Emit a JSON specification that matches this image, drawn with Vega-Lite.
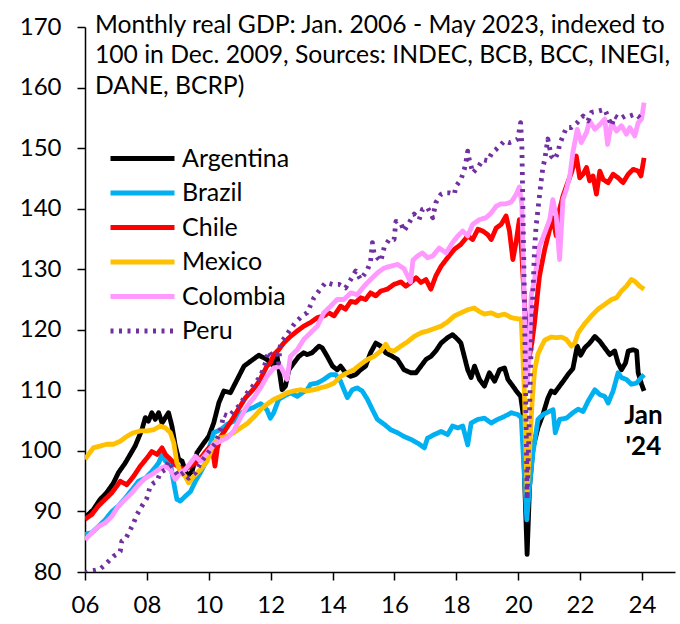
{
"$schema":"https://vega.github.io/schema/vega-lite/v6.json",
"width":590,"height":545,
"autosize":{"type":"none"},
"padding":{"left":85,"top":27,"right":5,"bottom":52},
"background":"white",
"config":{"view":{"stroke":null},"font":"Lato","axis":{"grid":false,"domainColor":"black","tickColor":"black","domainWidth":1.5,"tickWidth":1.5,"labelColor":"black","labelFont":"Lato","labelFontSize":24,"title":null,"labelFlush":false,"labelOverlap":false}},
"layer":[
{"data":{"values":[
{"country":"Argentina","year":2006.0,"value":89.0},{"country":"Argentina","year":2006.27,"value":90.3},{"country":"Argentina","year":2006.49,"value":92.0},{"country":"Argentina","year":2006.7,"value":93.1},{"country":"Argentina","year":2006.92,"value":94.7},{"country":"Argentina","year":2007.08,"value":96.4},{"country":"Argentina","year":2007.3,"value":98.0},{"country":"Argentina","year":2007.46,"value":99.4},{"country":"Argentina","year":2007.62,"value":100.8},{"country":"Argentina","year":2007.84,"value":103.5},{"country":"Argentina","year":2007.95,"value":105.5},{"country":"Argentina","year":2008.05,"value":104.9},{"country":"Argentina","year":2008.16,"value":106.3},{"country":"Argentina","year":2008.27,"value":105.2},{"country":"Argentina","year":2008.38,"value":106.3},{"country":"Argentina","year":2008.49,"value":104.6},{"country":"Argentina","year":2008.7,"value":106.3},{"country":"Argentina","year":2008.81,"value":104.1},{"country":"Argentina","year":2008.92,"value":100.8},{"country":"Argentina","year":2009.03,"value":98.6},{"country":"Argentina","year":2009.14,"value":98.3},{"country":"Argentina","year":2009.3,"value":95.8},{"country":"Argentina","year":2009.46,"value":96.6},{"country":"Argentina","year":2009.62,"value":99.7},{"country":"Argentina","year":2009.84,"value":101.3},{"country":"Argentina","year":2010.0,"value":102.4},{"country":"Argentina","year":2010.16,"value":104.6},{"country":"Argentina","year":2010.33,"value":108.0},{"country":"Argentina","year":2010.49,"value":109.9},{"country":"Argentina","year":2010.7,"value":109.6},{"country":"Argentina","year":2010.92,"value":111.8},{"country":"Argentina","year":2011.14,"value":114.0},{"country":"Argentina","year":2011.35,"value":114.8},{"country":"Argentina","year":2011.62,"value":115.8},{"country":"Argentina","year":2011.88,"value":115.1},{"country":"Argentina","year":2012.1,"value":114.0},{"country":"Argentina","year":2012.21,"value":115.6},{"country":"Argentina","year":2012.32,"value":111.8},{"country":"Argentina","year":2012.37,"value":110.1},{"country":"Argentina","year":2012.48,"value":110.7},{"country":"Argentina","year":2012.59,"value":113.4},{"country":"Argentina","year":2012.75,"value":114.5},{"country":"Argentina","year":2012.91,"value":115.6},{"country":"Argentina","year":2013.07,"value":116.2},{"country":"Argentina","year":2013.18,"value":115.9},{"country":"Argentina","year":2013.34,"value":116.2},{"country":"Argentina","year":2013.56,"value":117.3},{"country":"Argentina","year":2013.67,"value":117.0},{"country":"Argentina","year":2013.83,"value":115.6},{"country":"Argentina","year":2014.0,"value":114.0},{"country":"Argentina","year":2014.15,"value":113.4},{"country":"Argentina","year":2014.26,"value":114.0},{"country":"Argentina","year":2014.42,"value":112.9},{"country":"Argentina","year":2014.58,"value":112.3},{"country":"Argentina","year":2014.75,"value":112.6},{"country":"Argentina","year":2014.91,"value":113.4},{"country":"Argentina","year":2015.07,"value":114.0},{"country":"Argentina","year":2015.23,"value":116.2},{"country":"Argentina","year":2015.4,"value":117.8},{"country":"Argentina","year":2015.56,"value":117.3},{"country":"Argentina","year":2015.72,"value":116.2},{"country":"Argentina","year":2015.94,"value":115.6},{"country":"Argentina","year":2016.1,"value":115.1},{"country":"Argentina","year":2016.31,"value":113.4},{"country":"Argentina","year":2016.53,"value":112.9},{"country":"Argentina","year":2016.7,"value":112.9},{"country":"Argentina","year":2016.86,"value":114.0},{"country":"Argentina","year":2017.02,"value":115.1},{"country":"Argentina","year":2017.18,"value":115.6},{"country":"Argentina","year":2017.34,"value":116.5},{"country":"Argentina","year":2017.51,"value":117.8},{"country":"Argentina","year":2017.72,"value":118.7},{"country":"Argentina","year":2017.88,"value":119.2},{"country":"Argentina","year":2018.05,"value":118.4},{"country":"Argentina","year":2018.15,"value":117.8},{"country":"Argentina","year":2018.26,"value":115.6},{"country":"Argentina","year":2018.37,"value":113.4},{"country":"Argentina","year":2018.48,"value":112.1},{"country":"Argentina","year":2018.59,"value":114.0},{"country":"Argentina","year":2018.75,"value":111.8},{"country":"Argentina","year":2018.91,"value":110.7},{"country":"Argentina","year":2019.07,"value":112.9},{"country":"Argentina","year":2019.24,"value":111.5},{"country":"Argentina","year":2019.4,"value":113.4},{"country":"Argentina","year":2019.56,"value":113.7},{"country":"Argentina","year":2019.67,"value":111.8},{"country":"Argentina","year":2019.83,"value":110.7},{"country":"Argentina","year":2019.94,"value":109.9},{"country":"Argentina","year":2020.08,"value":109.0},{"country":"Argentina","year":2020.15,"value":106.5},{"country":"Argentina","year":2020.21,"value":95.0},{"country":"Argentina","year":2020.29,"value":82.9},{"country":"Argentina","year":2020.37,"value":94.2},{"country":"Argentina","year":2020.48,"value":100.5},{"country":"Argentina","year":2020.64,"value":103.8},{"country":"Argentina","year":2020.8,"value":106.0},{"country":"Argentina","year":2020.96,"value":108.7},{"country":"Argentina","year":2021.07,"value":109.9},{"country":"Argentina","year":2021.18,"value":109.6},{"country":"Argentina","year":2021.34,"value":110.7},{"country":"Argentina","year":2021.5,"value":111.8},{"country":"Argentina","year":2021.61,"value":112.6},{"country":"Argentina","year":2021.77,"value":113.6},{"country":"Argentina","year":2021.91,"value":117.3},{"country":"Argentina","year":2022.02,"value":115.8},{"country":"Argentina","year":2022.15,"value":117.0},{"country":"Argentina","year":2022.31,"value":117.8},{"country":"Argentina","year":2022.48,"value":118.9},{"country":"Argentina","year":2022.64,"value":118.1},{"country":"Argentina","year":2022.8,"value":117.0},{"country":"Argentina","year":2022.96,"value":115.9},{"country":"Argentina","year":2023.12,"value":116.5},{"country":"Argentina","year":2023.23,"value":114.5},{"country":"Argentina","year":2023.34,"value":113.4},{"country":"Argentina","year":2023.47,"value":114.5},{"country":"Argentina","year":2023.56,"value":116.5},{"country":"Argentina","year":2023.72,"value":116.7},{"country":"Argentina","year":2023.83,"value":116.5},{"country":"Argentina","year":2023.88,"value":112.9},{"country":"Argentina","year":2023.99,"value":111.0},{"country":"Argentina","year":2024.07,"value":109.9},
{"country":"Brazil","year":2006.0,"value":86.2},{"country":"Brazil","year":2006.22,"value":86.5},{"country":"Brazil","year":2006.43,"value":87.5},{"country":"Brazil","year":2006.65,"value":88.6},{"country":"Brazil","year":2006.87,"value":90.0},{"country":"Brazil","year":2007.08,"value":90.9},{"country":"Brazil","year":2007.3,"value":92.2},{"country":"Brazil","year":2007.52,"value":93.6},{"country":"Brazil","year":2007.73,"value":95.0},{"country":"Brazil","year":2007.95,"value":95.5},{"country":"Brazil","year":2008.16,"value":96.6},{"country":"Brazil","year":2008.38,"value":98.0},{"country":"Brazil","year":2008.49,"value":99.4},{"country":"Brazil","year":2008.6,"value":98.3},{"country":"Brazil","year":2008.76,"value":98.0},{"country":"Brazil","year":2008.87,"value":94.7},{"country":"Brazil","year":2008.97,"value":92.0},{"country":"Brazil","year":2009.08,"value":91.7},{"country":"Brazil","year":2009.24,"value":92.5},{"country":"Brazil","year":2009.41,"value":93.3},{"country":"Brazil","year":2009.57,"value":95.0},{"country":"Brazil","year":2009.73,"value":96.4},{"country":"Brazil","year":2009.89,"value":98.0},{"country":"Brazil","year":2010.05,"value":101.1},{"country":"Brazil","year":2010.16,"value":103.0},{"country":"Brazil","year":2010.38,"value":103.5},{"country":"Brazil","year":2010.6,"value":104.4},{"country":"Brazil","year":2010.81,"value":104.9},{"country":"Brazil","year":2011.03,"value":106.2},{"country":"Brazil","year":2011.24,"value":106.8},{"country":"Brazil","year":2011.46,"value":107.2},{"country":"Brazil","year":2011.68,"value":107.8},{"country":"Brazil","year":2011.88,"value":106.8},{"country":"Brazil","year":2011.99,"value":105.4},{"country":"Brazil","year":2012.1,"value":106.3},{"country":"Brazil","year":2012.26,"value":108.5},{"country":"Brazil","year":2012.42,"value":109.0},{"country":"Brazil","year":2012.64,"value":109.6},{"country":"Brazil","year":2012.86,"value":109.0},{"country":"Brazil","year":2013.02,"value":109.6},{"country":"Brazil","year":2013.18,"value":110.1},{"country":"Brazil","year":2013.29,"value":111.0},{"country":"Brazil","year":2013.51,"value":111.2},{"country":"Brazil","year":2013.72,"value":111.8},{"country":"Brazil","year":2013.94,"value":112.6},{"country":"Brazil","year":2014.1,"value":112.6},{"country":"Brazil","year":2014.26,"value":111.5},{"country":"Brazil","year":2014.37,"value":110.1},{"country":"Brazil","year":2014.48,"value":108.8},{"country":"Brazil","year":2014.64,"value":110.1},{"country":"Brazil","year":2014.8,"value":110.4},{"country":"Brazil","year":2014.96,"value":109.9},{"country":"Brazil","year":2015.13,"value":108.5},{"country":"Brazil","year":2015.29,"value":106.8},{"country":"Brazil","year":2015.45,"value":105.2},{"country":"Brazil","year":2015.67,"value":104.4},{"country":"Brazil","year":2015.88,"value":103.5},{"country":"Brazil","year":2016.1,"value":103.0},{"country":"Brazil","year":2016.3,"value":102.4},{"country":"Brazil","year":2016.53,"value":101.9},{"country":"Brazil","year":2016.75,"value":101.3},{"country":"Brazil","year":2016.97,"value":100.5},{"country":"Brazil","year":2017.07,"value":102.1},{"country":"Brazil","year":2017.29,"value":102.7},{"country":"Brazil","year":2017.51,"value":103.2},{"country":"Brazil","year":2017.72,"value":102.7},{"country":"Brazil","year":2017.88,"value":104.1},{"country":"Brazil","year":2018.05,"value":103.8},{"country":"Brazil","year":2018.21,"value":104.1},{"country":"Brazil","year":2018.37,"value":101.0},{"country":"Brazil","year":2018.48,"value":104.6},{"country":"Brazil","year":2018.7,"value":105.2},{"country":"Brazil","year":2018.91,"value":105.4},{"country":"Brazil","year":2019.13,"value":104.6},{"country":"Brazil","year":2019.34,"value":105.2},{"country":"Brazil","year":2019.56,"value":105.7},{"country":"Brazil","year":2019.78,"value":106.3},{"country":"Brazil","year":2019.99,"value":106.0},{"country":"Brazil","year":2020.1,"value":105.5},{"country":"Brazil","year":2020.19,"value":97.0},{"country":"Brazil","year":2020.28,"value":88.6},{"country":"Brazil","year":2020.37,"value":94.2},{"country":"Brazil","year":2020.48,"value":99.7},{"country":"Brazil","year":2020.64,"value":105.2},{"country":"Brazil","year":2020.8,"value":106.0},{"country":"Brazil","year":2020.96,"value":106.4},{"country":"Brazil","year":2021.13,"value":106.8},{"country":"Brazil","year":2021.2,"value":103.0},{"country":"Brazil","year":2021.34,"value":105.2},{"country":"Brazil","year":2021.56,"value":105.4},{"country":"Brazil","year":2021.77,"value":106.3},{"country":"Brazil","year":2021.94,"value":106.9},{"country":"Brazil","year":2022.1,"value":106.5},{"country":"Brazil","year":2022.26,"value":108.2},{"country":"Brazil","year":2022.48,"value":110.1},{"country":"Brazil","year":2022.64,"value":109.3},{"country":"Brazil","year":2022.8,"value":109.0},{"country":"Brazil","year":2022.91,"value":107.9},{"country":"Brazil","year":2023.07,"value":109.9},{"country":"Brazil","year":2023.23,"value":112.9},{"country":"Brazil","year":2023.34,"value":112.1},{"country":"Brazil","year":2023.5,"value":111.8},{"country":"Brazil","year":2023.66,"value":111.0},{"country":"Brazil","year":2023.83,"value":111.2},{"country":"Brazil","year":2023.93,"value":111.8},{"country":"Brazil","year":2024.07,"value":112.6},
{"country":"Chile","year":2006.0,"value":88.7},{"country":"Chile","year":2006.22,"value":89.5},{"country":"Chile","year":2006.43,"value":90.9},{"country":"Chile","year":2006.65,"value":92.0},{"country":"Chile","year":2006.87,"value":93.1},{"country":"Chile","year":2007.03,"value":94.2},{"country":"Chile","year":2007.14,"value":95.0},{"country":"Chile","year":2007.35,"value":94.4},{"country":"Chile","year":2007.57,"value":95.8},{"country":"Chile","year":2007.79,"value":97.5},{"country":"Chile","year":2008.0,"value":98.8},{"country":"Chile","year":2008.16,"value":99.9},{"country":"Chile","year":2008.33,"value":99.4},{"country":"Chile","year":2008.49,"value":100.5},{"country":"Chile","year":2008.6,"value":99.4},{"country":"Chile","year":2008.76,"value":98.6},{"country":"Chile","year":2008.92,"value":97.7},{"country":"Chile","year":2009.08,"value":97.2},{"country":"Chile","year":2009.24,"value":96.9},{"country":"Chile","year":2009.41,"value":97.5},{"country":"Chile","year":2009.57,"value":98.0},{"country":"Chile","year":2009.78,"value":99.1},{"country":"Chile","year":2010.0,"value":100.5},{"country":"Chile","year":2010.1,"value":100.8},{"country":"Chile","year":2010.2,"value":97.5},{"country":"Chile","year":2010.28,"value":100.5},{"country":"Chile","year":2010.38,"value":102.3},{"country":"Chile","year":2010.54,"value":103.5},{"country":"Chile","year":2010.76,"value":105.2},{"country":"Chile","year":2010.97,"value":107.0},{"country":"Chile","year":2011.19,"value":108.8},{"country":"Chile","year":2011.41,"value":110.0},{"country":"Chile","year":2011.62,"value":111.4},{"country":"Chile","year":2011.88,"value":114.0},{"country":"Chile","year":2011.99,"value":114.5},{"country":"Chile","year":2012.1,"value":115.9},{"country":"Chile","year":2012.26,"value":116.7},{"country":"Chile","year":2012.42,"value":117.8},{"country":"Chile","year":2012.64,"value":118.9},{"country":"Chile","year":2012.86,"value":119.8},{"country":"Chile","year":2013.07,"value":120.6},{"country":"Chile","year":2013.29,"value":121.2},{"country":"Chile","year":2013.51,"value":122.0},{"country":"Chile","year":2013.72,"value":122.3},{"country":"Chile","year":2013.88,"value":122.8},{"country":"Chile","year":2014.05,"value":122.3},{"country":"Chile","year":2014.26,"value":123.9},{"country":"Chile","year":2014.42,"value":123.4},{"country":"Chile","year":2014.59,"value":124.7},{"country":"Chile","year":2014.75,"value":124.5},{"country":"Chile","year":2014.91,"value":125.3},{"country":"Chile","year":2015.07,"value":125.0},{"country":"Chile","year":2015.23,"value":126.1},{"country":"Chile","year":2015.4,"value":125.6},{"country":"Chile","year":2015.56,"value":126.4},{"country":"Chile","year":2015.77,"value":126.7},{"country":"Chile","year":2015.99,"value":127.5},{"country":"Chile","year":2016.21,"value":127.9},{"country":"Chile","year":2016.37,"value":127.2},{"country":"Chile","year":2016.53,"value":127.8},{"country":"Chile","year":2016.7,"value":128.6},{"country":"Chile","year":2016.86,"value":127.8},{"country":"Chile","year":2017.02,"value":128.3},{"country":"Chile","year":2017.18,"value":126.7},{"country":"Chile","year":2017.34,"value":128.9},{"country":"Chile","year":2017.51,"value":130.5},{"country":"Chile","year":2017.72,"value":131.9},{"country":"Chile","year":2017.94,"value":133.3},{"country":"Chile","year":2018.15,"value":134.1},{"country":"Chile","year":2018.37,"value":135.5},{"country":"Chile","year":2018.53,"value":134.9},{"country":"Chile","year":2018.7,"value":136.6},{"country":"Chile","year":2018.86,"value":136.3},{"country":"Chile","year":2019.02,"value":135.7},{"country":"Chile","year":2019.13,"value":134.9},{"country":"Chile","year":2019.29,"value":136.8},{"country":"Chile","year":2019.45,"value":137.4},{"country":"Chile","year":2019.61,"value":138.8},{"country":"Chile","year":2019.72,"value":136.3},{"country":"Chile","year":2019.83,"value":131.6},{"country":"Chile","year":2019.94,"value":134.7},{"country":"Chile","year":2020.04,"value":138.2},{"country":"Chile","year":2020.12,"value":132.4},{"country":"Chile","year":2020.21,"value":123.9},{"country":"Chile","year":2020.29,"value":118.5},{"country":"Chile","year":2020.37,"value":115.8},{"country":"Chile","year":2020.45,"value":118.0},{"country":"Chile","year":2020.53,"value":121.2},{"country":"Chile","year":2020.69,"value":128.9},{"country":"Chile","year":2020.86,"value":133.3},{"country":"Chile","year":2021.02,"value":136.6},{"country":"Chile","year":2021.12,"value":138.5},{"country":"Chile","year":2021.23,"value":135.5},{"country":"Chile","year":2021.34,"value":139.9},{"country":"Chile","year":2021.45,"value":142.1},{"country":"Chile","year":2021.56,"value":143.7},{"country":"Chile","year":2021.72,"value":145.9},{"country":"Chile","year":2021.88,"value":148.7},{"country":"Chile","year":2021.99,"value":145.1},{"country":"Chile","year":2022.1,"value":145.7},{"country":"Chile","year":2022.21,"value":146.8},{"country":"Chile","year":2022.31,"value":144.6},{"country":"Chile","year":2022.42,"value":145.4},{"country":"Chile","year":2022.53,"value":142.4},{"country":"Chile","year":2022.64,"value":146.2},{"country":"Chile","year":2022.75,"value":144.8},{"country":"Chile","year":2022.91,"value":144.3},{"country":"Chile","year":2023.07,"value":145.7},{"country":"Chile","year":2023.23,"value":145.1},{"country":"Chile","year":2023.39,"value":144.3},{"country":"Chile","year":2023.56,"value":145.7},{"country":"Chile","year":2023.72,"value":146.5},{"country":"Chile","year":2023.88,"value":146.2},{"country":"Chile","year":2023.97,"value":145.4},{"country":"Chile","year":2024.07,"value":148.4},
{"country":"Mexico","year":2006.0,"value":98.6},{"country":"Mexico","year":2006.11,"value":99.4},{"country":"Mexico","year":2006.27,"value":100.5},{"country":"Mexico","year":2006.49,"value":100.8},{"country":"Mexico","year":2006.7,"value":101.1},{"country":"Mexico","year":2006.92,"value":101.1},{"country":"Mexico","year":2007.14,"value":101.6},{"country":"Mexico","year":2007.35,"value":102.4},{"country":"Mexico","year":2007.57,"value":103.0},{"country":"Mexico","year":2007.79,"value":103.3},{"country":"Mexico","year":2008.0,"value":103.3},{"country":"Mexico","year":2008.22,"value":103.5},{"country":"Mexico","year":2008.43,"value":104.1},{"country":"Mexico","year":2008.6,"value":103.8},{"country":"Mexico","year":2008.76,"value":103.0},{"country":"Mexico","year":2008.87,"value":101.3},{"country":"Mexico","year":2008.97,"value":98.0},{"country":"Mexico","year":2009.08,"value":96.6},{"country":"Mexico","year":2009.24,"value":95.8},{"country":"Mexico","year":2009.35,"value":94.7},{"country":"Mexico","year":2009.51,"value":95.8},{"country":"Mexico","year":2009.73,"value":96.9},{"country":"Mexico","year":2009.95,"value":98.3},{"country":"Mexico","year":2010.16,"value":101.3},{"country":"Mexico","year":2010.38,"value":102.2},{"country":"Mexico","year":2010.6,"value":102.4},{"country":"Mexico","year":2010.81,"value":103.0},{"country":"Mexico","year":2011.03,"value":103.8},{"country":"Mexico","year":2011.24,"value":104.5},{"country":"Mexico","year":2011.46,"value":105.6},{"country":"Mexico","year":2011.67,"value":106.8},{"country":"Mexico","year":2011.88,"value":107.7},{"country":"Mexico","year":2012.1,"value":108.5},{"country":"Mexico","year":2012.32,"value":109.0},{"country":"Mexico","year":2012.53,"value":109.6},{"country":"Mexico","year":2012.75,"value":109.9},{"country":"Mexico","year":2012.97,"value":110.1},{"country":"Mexico","year":2013.18,"value":109.9},{"country":"Mexico","year":2013.4,"value":110.1},{"country":"Mexico","year":2013.61,"value":110.4},{"country":"Mexico","year":2013.83,"value":110.7},{"country":"Mexico","year":2014.05,"value":111.2},{"country":"Mexico","year":2014.26,"value":112.3},{"country":"Mexico","year":2014.48,"value":112.9},{"country":"Mexico","year":2014.69,"value":113.4},{"country":"Mexico","year":2014.91,"value":114.3},{"country":"Mexico","year":2015.13,"value":115.1},{"country":"Mexico","year":2015.34,"value":115.6},{"country":"Mexico","year":2015.56,"value":116.5},{"country":"Mexico","year":2015.72,"value":117.6},{"country":"Mexico","year":2015.83,"value":116.7},{"country":"Mexico","year":2015.99,"value":116.5},{"country":"Mexico","year":2016.21,"value":117.3},{"country":"Mexico","year":2016.42,"value":118.0},{"country":"Mexico","year":2016.64,"value":118.9},{"country":"Mexico","year":2016.86,"value":119.5},{"country":"Mexico","year":2017.07,"value":119.8},{"country":"Mexico","year":2017.29,"value":120.2},{"country":"Mexico","year":2017.51,"value":120.6},{"country":"Mexico","year":2017.72,"value":121.3},{"country":"Mexico","year":2017.94,"value":122.3},{"country":"Mexico","year":2018.15,"value":122.8},{"country":"Mexico","year":2018.37,"value":123.3},{"country":"Mexico","year":2018.58,"value":123.6},{"country":"Mexico","year":2018.75,"value":123.0},{"country":"Mexico","year":2018.91,"value":122.6},{"country":"Mexico","year":2019.13,"value":122.8},{"country":"Mexico","year":2019.34,"value":122.3},{"country":"Mexico","year":2019.56,"value":122.6},{"country":"Mexico","year":2019.78,"value":122.0},{"country":"Mexico","year":2019.99,"value":121.8},{"country":"Mexico","year":2020.1,"value":121.8},{"country":"Mexico","year":2020.2,"value":110.0},{"country":"Mexico","year":2020.29,"value":93.0},{"country":"Mexico","year":2020.37,"value":100.0},{"country":"Mexico","year":2020.45,"value":108.0},{"country":"Mexico","year":2020.53,"value":113.2},{"country":"Mexico","year":2020.64,"value":116.0},{"country":"Mexico","year":2020.75,"value":117.2},{"country":"Mexico","year":2020.86,"value":118.3},{"country":"Mexico","year":2021.07,"value":118.8},{"country":"Mexico","year":2021.23,"value":118.7},{"country":"Mexico","year":2021.4,"value":118.8},{"country":"Mexico","year":2021.56,"value":118.4},{"country":"Mexico","year":2021.72,"value":117.3},{"country":"Mexico","year":2021.83,"value":117.8},{"country":"Mexico","year":2021.94,"value":119.5},{"country":"Mexico","year":2022.15,"value":121.0},{"country":"Mexico","year":2022.37,"value":122.3},{"country":"Mexico","year":2022.58,"value":123.4},{"country":"Mexico","year":2022.8,"value":124.2},{"country":"Mexico","year":2023.02,"value":125.0},{"country":"Mexico","year":2023.18,"value":125.3},{"country":"Mexico","year":2023.34,"value":126.4},{"country":"Mexico","year":2023.5,"value":127.2},{"country":"Mexico","year":2023.66,"value":128.3},{"country":"Mexico","year":2023.77,"value":128.0},{"country":"Mexico","year":2023.93,"value":127.2},{"country":"Mexico","year":2024.07,"value":126.7},
{"country":"Colombia","year":2006.0,"value":85.3},{"country":"Colombia","year":2006.22,"value":86.5},{"country":"Colombia","year":2006.43,"value":87.5},{"country":"Colombia","year":2006.65,"value":88.1},{"country":"Colombia","year":2006.87,"value":89.2},{"country":"Colombia","year":2007.08,"value":90.9},{"country":"Colombia","year":2007.3,"value":92.0},{"country":"Colombia","year":2007.52,"value":93.1},{"country":"Colombia","year":2007.73,"value":94.4},{"country":"Colombia","year":2007.95,"value":95.5},{"country":"Colombia","year":2008.16,"value":96.1},{"country":"Colombia","year":2008.38,"value":96.9},{"country":"Colombia","year":2008.6,"value":97.5},{"country":"Colombia","year":2008.76,"value":96.9},{"country":"Colombia","year":2008.92,"value":95.3},{"country":"Colombia","year":2009.08,"value":96.4},{"country":"Colombia","year":2009.24,"value":96.9},{"country":"Colombia","year":2009.41,"value":98.0},{"country":"Colombia","year":2009.57,"value":99.1},{"country":"Colombia","year":2009.73,"value":98.3},{"country":"Colombia","year":2009.95,"value":99.7},{"country":"Colombia","year":2010.16,"value":101.1},{"country":"Colombia","year":2010.38,"value":101.6},{"country":"Colombia","year":2010.6,"value":102.2},{"country":"Colombia","year":2010.81,"value":103.3},{"country":"Colombia","year":2011.03,"value":105.5},{"country":"Colombia","year":2011.24,"value":107.4},{"country":"Colombia","year":2011.46,"value":108.8},{"country":"Colombia","year":2011.67,"value":110.4},{"country":"Colombia","year":2011.88,"value":112.3},{"country":"Colombia","year":2012.1,"value":113.7},{"country":"Colombia","year":2012.32,"value":114.0},{"country":"Colombia","year":2012.53,"value":111.8},{"country":"Colombia","year":2012.64,"value":115.6},{"country":"Colombia","year":2012.86,"value":116.7},{"country":"Colombia","year":2013.07,"value":118.4},{"country":"Colombia","year":2013.29,"value":119.5},{"country":"Colombia","year":2013.51,"value":120.6},{"country":"Colombia","year":2013.72,"value":122.8},{"country":"Colombia","year":2013.94,"value":123.9},{"country":"Colombia","year":2014.15,"value":125.0},{"country":"Colombia","year":2014.37,"value":125.0},{"country":"Colombia","year":2014.59,"value":126.1},{"country":"Colombia","year":2014.8,"value":125.8},{"country":"Colombia","year":2015.02,"value":127.2},{"country":"Colombia","year":2015.23,"value":128.3},{"country":"Colombia","year":2015.45,"value":129.4},{"country":"Colombia","year":2015.67,"value":130.2},{"country":"Colombia","year":2015.88,"value":130.5},{"country":"Colombia","year":2016.1,"value":130.8},{"country":"Colombia","year":2016.31,"value":130.1},{"country":"Colombia","year":2016.52,"value":127.9},{"country":"Colombia","year":2016.6,"value":131.5},{"country":"Colombia","year":2016.75,"value":132.2},{"country":"Colombia","year":2016.91,"value":132.7},{"country":"Colombia","year":2017.07,"value":131.9},{"country":"Colombia","year":2017.24,"value":132.2},{"country":"Colombia","year":2017.45,"value":133.5},{"country":"Colombia","year":2017.67,"value":132.7},{"country":"Colombia","year":2017.88,"value":134.4},{"country":"Colombia","year":2018.05,"value":135.5},{"country":"Colombia","year":2018.21,"value":136.3},{"country":"Colombia","year":2018.37,"value":135.5},{"country":"Colombia","year":2018.53,"value":137.4},{"country":"Colombia","year":2018.75,"value":138.2},{"country":"Colombia","year":2018.96,"value":138.5},{"country":"Colombia","year":2019.13,"value":139.3},{"country":"Colombia","year":2019.29,"value":140.4},{"country":"Colombia","year":2019.45,"value":140.8},{"country":"Colombia","year":2019.61,"value":140.8},{"country":"Colombia","year":2019.78,"value":141.1},{"country":"Colombia","year":2019.94,"value":142.4},{"country":"Colombia","year":2020.04,"value":143.6},{"country":"Colombia","year":2020.12,"value":140.7},{"country":"Colombia","year":2020.2,"value":124.0},{"country":"Colombia","year":2020.29,"value":111.0},{"country":"Colombia","year":2020.37,"value":117.0},{"country":"Colombia","year":2020.42,"value":125.6},{"country":"Colombia","year":2020.53,"value":128.3},{"country":"Colombia","year":2020.69,"value":133.8},{"country":"Colombia","year":2020.86,"value":136.0},{"country":"Colombia","year":2021.02,"value":138.2},{"country":"Colombia","year":2021.12,"value":141.5},{"country":"Colombia","year":2021.23,"value":138.8},{"country":"Colombia","year":2021.34,"value":131.6},{"country":"Colombia","year":2021.45,"value":141.5},{"country":"Colombia","year":2021.56,"value":143.2},{"country":"Colombia","year":2021.67,"value":145.4},{"country":"Colombia","year":2021.77,"value":149.3},{"country":"Colombia","year":2021.91,"value":153.1},{"country":"Colombia","year":2022.04,"value":150.9},{"country":"Colombia","year":2022.21,"value":152.6},{"country":"Colombia","year":2022.31,"value":154.5},{"country":"Colombia","year":2022.48,"value":153.1},{"country":"Colombia","year":2022.64,"value":153.9},{"country":"Colombia","year":2022.8,"value":154.8},{"country":"Colombia","year":2022.89,"value":150.6},{"country":"Colombia","year":2023.02,"value":154.2},{"country":"Colombia","year":2023.18,"value":152.8},{"country":"Colombia","year":2023.34,"value":153.7},{"country":"Colombia","year":2023.5,"value":152.3},{"country":"Colombia","year":2023.61,"value":153.4},{"country":"Colombia","year":2023.77,"value":152.0},{"country":"Colombia","year":2023.88,"value":154.2},{"country":"Colombia","year":2023.99,"value":154.8},{"country":"Colombia","year":2024.07,"value":157.5},
{"country":"Peru","year":2006.0,"value":79.8},{"country":"Peru","year":2006.16,"value":80.2},{"country":"Peru","year":2006.33,"value":80.3},{"country":"Peru","year":2006.49,"value":80.5},{"country":"Peru","year":2006.65,"value":81.2},{"country":"Peru","year":2006.92,"value":82.6},{"country":"Peru","year":2007.05,"value":83.0},{"country":"Peru","year":2007.14,"value":83.4},{"country":"Peru","year":2007.19,"value":85.1},{"country":"Peru","year":2007.3,"value":85.4},{"country":"Peru","year":2007.44,"value":86.7},{"country":"Peru","year":2007.57,"value":88.1},{"country":"Peru","year":2007.68,"value":89.5},{"country":"Peru","year":2007.84,"value":90.9},{"country":"Peru","year":2008.0,"value":92.2},{"country":"Peru","year":2008.11,"value":94.2},{"country":"Peru","year":2008.22,"value":94.7},{"country":"Peru","year":2008.33,"value":95.0},{"country":"Peru","year":2008.43,"value":96.4},{"country":"Peru","year":2008.6,"value":96.9},{"country":"Peru","year":2008.7,"value":98.3},{"country":"Peru","year":2008.87,"value":96.9},{"country":"Peru","year":2009.03,"value":95.8},{"country":"Peru","year":2009.19,"value":96.4},{"country":"Peru","year":2009.35,"value":95.5},{"country":"Peru","year":2009.57,"value":96.4},{"country":"Peru","year":2009.73,"value":98.0},{"country":"Peru","year":2009.89,"value":99.1},{"country":"Peru","year":2010.05,"value":100.2},{"country":"Peru","year":2010.22,"value":101.3},{"country":"Peru","year":2010.38,"value":103.5},{"country":"Peru","year":2010.49,"value":106.0},{"country":"Peru","year":2010.65,"value":105.7},{"country":"Peru","year":2010.81,"value":106.6},{"country":"Peru","year":2011.03,"value":107.7},{"country":"Peru","year":2011.19,"value":109.3},{"country":"Peru","year":2011.35,"value":110.2},{"country":"Peru","year":2011.51,"value":111.3},{"country":"Peru","year":2011.67,"value":112.3},{"country":"Peru","year":2011.8,"value":114.0},{"country":"Peru","year":2011.94,"value":116.5},{"country":"Peru","year":2012.05,"value":115.6},{"country":"Peru","year":2012.21,"value":115.9},{"country":"Peru","year":2012.26,"value":114.5},{"country":"Peru","year":2012.32,"value":117.8},{"country":"Peru","year":2012.48,"value":118.9},{"country":"Peru","year":2012.64,"value":120.1},{"country":"Peru","year":2012.8,"value":121.2},{"country":"Peru","year":2013.02,"value":122.3},{"country":"Peru","year":2013.18,"value":122.8},{"country":"Peru","year":2013.4,"value":125.3},{"country":"Peru","year":2013.56,"value":126.4},{"country":"Peru","year":2013.78,"value":127.8},{"country":"Peru","year":2014.0,"value":127.5},{"country":"Peru","year":2014.21,"value":127.5},{"country":"Peru","year":2014.42,"value":126.9},{"country":"Peru","year":2014.59,"value":128.3},{"country":"Peru","year":2014.75,"value":129.7},{"country":"Peru","year":2014.91,"value":128.3},{"country":"Peru","year":2015.13,"value":129.9},{"country":"Peru","year":2015.23,"value":131.3},{"country":"Peru","year":2015.29,"value":134.4},{"country":"Peru","year":2015.34,"value":132.7},{"country":"Peru","year":2015.45,"value":131.9},{"country":"Peru","year":2015.56,"value":131.3},{"country":"Peru","year":2015.67,"value":133.6},{"country":"Peru","year":2015.83,"value":134.9},{"country":"Peru","year":2015.99,"value":134.9},{"country":"Peru","year":2016.05,"value":137.9},{"country":"Peru","year":2016.21,"value":137.6},{"country":"Peru","year":2016.31,"value":136.3},{"country":"Peru","year":2016.48,"value":137.7},{"country":"Peru","year":2016.64,"value":139.1},{"country":"Peru","year":2016.8,"value":138.2},{"country":"Peru","year":2016.91,"value":139.9},{"country":"Peru","year":2017.07,"value":140.2},{"country":"Peru","year":2017.24,"value":138.5},{"country":"Peru","year":2017.34,"value":141.0},{"country":"Peru","year":2017.51,"value":142.4},{"country":"Peru","year":2017.61,"value":142.6},{"country":"Peru","year":2017.78,"value":142.6},{"country":"Peru","year":2017.94,"value":142.4},{"country":"Peru","year":2017.99,"value":143.7},{"country":"Peru","year":2018.15,"value":144.8},{"country":"Peru","year":2018.26,"value":146.5},{"country":"Peru","year":2018.32,"value":147.9},{"country":"Peru","year":2018.37,"value":149.5},{"country":"Peru","year":2018.42,"value":148.1},{"country":"Peru","year":2018.48,"value":147.0},{"country":"Peru","year":2018.53,"value":145.9},{"country":"Peru","year":2018.7,"value":146.8},{"country":"Peru","year":2018.86,"value":148.1},{"country":"Peru","year":2019.02,"value":147.9},{"country":"Peru","year":2019.15,"value":149.2},{"country":"Peru","year":2019.29,"value":149.8},{"country":"Peru","year":2019.45,"value":150.6},{"country":"Peru","year":2019.56,"value":151.2},{"country":"Peru","year":2019.72,"value":150.9},{"country":"Peru","year":2019.88,"value":151.2},{"country":"Peru","year":2019.99,"value":151.5},{"country":"Peru","year":2020.08,"value":154.2},{"country":"Peru","year":2020.12,"value":150.5},{"country":"Peru","year":2020.2,"value":126.0},{"country":"Peru","year":2020.29,"value":92.0},{"country":"Peru","year":2020.37,"value":107.0},{"country":"Peru","year":2020.44,"value":121.1},{"country":"Peru","year":2020.53,"value":133.3},{"country":"Peru","year":2020.58,"value":137.1},{"country":"Peru","year":2020.69,"value":142.1},{"country":"Peru","year":2020.75,"value":144.8},{"country":"Peru","year":2020.8,"value":146.8},{"country":"Peru","year":2020.86,"value":148.1},{"country":"Peru","year":2020.91,"value":149.8},{"country":"Peru","year":2020.96,"value":151.5},{"country":"Peru","year":2021.07,"value":148.7},{"country":"Peru","year":2021.18,"value":148.1},{"country":"Peru","year":2021.29,"value":149.3},{"country":"Peru","year":2021.34,"value":150.6},{"country":"Peru","year":2021.45,"value":152.0},{"country":"Peru","year":2021.56,"value":153.4},{"country":"Peru","year":2021.72,"value":153.4},{"country":"Peru","year":2021.91,"value":154.2},{"country":"Peru","year":2022.1,"value":155.3},{"country":"Peru","year":2022.26,"value":154.5},{"country":"Peru","year":2022.37,"value":155.9},{"country":"Peru","year":2022.58,"value":156.1},{"country":"Peru","year":2022.8,"value":156.4},{"country":"Peru","year":2023.02,"value":153.7},{"country":"Peru","year":2023.12,"value":155.3},{"country":"Peru","year":2023.29,"value":154.8},{"country":"Peru","year":2023.45,"value":155.3},{"country":"Peru","year":2023.61,"value":155.3},{"country":"Peru","year":2023.77,"value":155.6},{"country":"Peru","year":2023.88,"value":155.3},{"country":"Peru","year":2023.93,"value":155.0}
]},
"mark":{"type":"line","strokeWidth":4.8,"strokeJoin":"round","clip":true},
"encoding":{
"x":{"field":"year","type":"quantitative","scale":{"domain":[2006,2025.07],"nice":false,"zero":false},"axis":{"values":[2006,2008,2010,2012,2014,2016,2018,2020,2022,2024],"labelExpr":"substring(toString(datum.value),2)","tickSize":8,"labelPadding":13}},
"y":{"field":"value","type":"quantitative","scale":{"domain":[80,170],"nice":false,"zero":false},"axis":{"values":[80,90,100,110,120,130,140,150,160,170],"tickSize":8,"labelPadding":16}},
"color":{"field":"country","type":"nominal","sort":["Argentina","Brazil","Chile","Mexico","Colombia","Peru"],"scale":{"domain":["Argentina","Brazil","Chile","Mexico","Colombia","Peru"],"range":["#000000","#00B0F0","#FF0000","#FFC000","#FF99FF","#7030A0"]},"legend":{"title":null,"orient":"none","legendX":39,"legendY":113,"labelFontSize":25,"labelFont":"Lato","labelColor":"black","symbolType":"M-2,0L2,0","symbolSize":1024,"symbolStrokeWidth":5,"rowPadding":2.5,"labelOffset":21,"padding":0}},
"strokeDash":{"field":"country","type":"nominal","sort":["Argentina","Brazil","Chile","Mexico","Colombia","Peru"],"scale":{"domain":["Argentina","Brazil","Chile","Mexico","Colombia","Peru"],"range":[[1,0],[1,0],[1,0],[1,0],[1,0],[3,5.5]]},"legend":{"title":null,"orient":"none","legendX":39,"legendY":113,"labelFontSize":25,"labelFont":"Lato","labelColor":"black","symbolType":"M-2,0L2,0","symbolSize":1024,"symbolStrokeWidth":5,"rowPadding":2.5,"labelOffset":21,"padding":0}}
}},
{"data":{"values":[{"year":2024.05,"value":105.8,"label":"Jan"},{"year":2024.05,"value":100.7,"label":"'24"}]},
"mark":{"type":"text","fontWeight":"bold","fontSize":26,"font":"Lato","color":"black"},
"encoding":{"x":{"field":"year","type":"quantitative"},"y":{"field":"value","type":"quantitative"},"text":{"field":"label"}}},
{"data":{"values":[{"year":2006.32,"value":169.0,"label":"Monthly real GDP: Jan. 2006 - May 2023, indexed to"},{"year":2006.32,"value":164.0,"label":"100 in Dec. 2009, Sources: INDEC, BCB, BCC, INEGI,"},{"year":2006.32,"value":159.0,"label":"DANE, BCRP)"}]},
"mark":{"type":"text","align":"left","baseline":"alphabetic","fontSize":24.7,"font":"Lato","color":"black"},
"encoding":{"x":{"field":"year","type":"quantitative"},"y":{"field":"value","type":"quantitative"},"text":{"field":"label"}}}
]
}
